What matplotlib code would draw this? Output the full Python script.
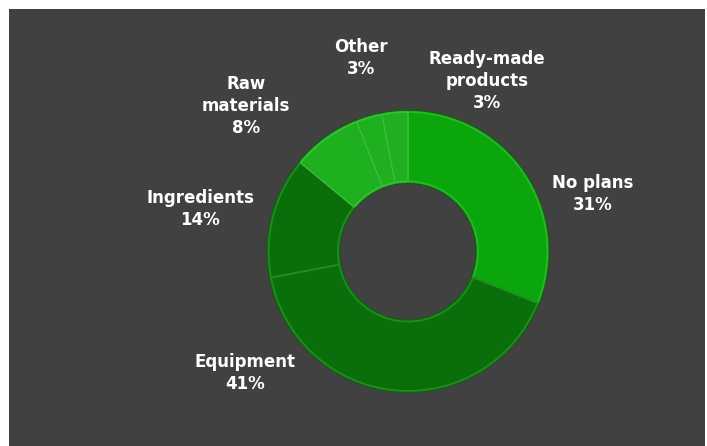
import matplotlib
matplotlib.use("Agg")
import matplotlib.pyplot as plt
from matplotlib.patches import Rectangle
import numpy as np

labels = ["No plans", "Equipment", "Ingredients", "Raw materials", "Other", "Ready-made products"]
display_labels = ["No plans", "Equipment", "Ingredients", "Raw\nmaterials", "Other", "Ready-made\nproducts"]
values = [31, 41, 14, 8, 3, 3]
colors = ["#0ba60b", "#0a6f0a", "#0a6f0a", "#1eb01e", "#1eb01e", "#1eb01e"]
rims = ["#27b827", "#1f8f1f", "#1f8f1f", "#36c036", "#36c036", "#36c036"]

# label centres in data units (radius 1 = outer ring)
label_pos = [(1.307, 0.405), (-1.152, -0.859), (-1.470, 0.300),
             (-1.145, 1.028), (-0.332, 1.367), (0.558, 1.205)]

W, H = 707, 446
cx, cy, R = 408, 251.5, 141.5

fig = plt.figure(figsize=(W / 100, H / 100), dpi=100)
fig.patch.set_facecolor("white")
ax = fig.add_axes([0, 0, 1, 1])
ax.axis("off")
ax.add_patch(Rectangle((9 / W, 0), (705 - 9) / W, (446 - 9) / H, transform=ax.transAxes,
                       facecolor="#414141", edgecolor="none", zorder=0))

wedges, _ = ax.pie(values, colors=colors, startangle=90, counterclock=False, radius=1.0,
                   wedgeprops=dict(width=0.52, edgecolor="#245224", linewidth=1.1))
for w in wedges:
    w.set_zorder(2)
# inner lighter rim for bevel look
wedges2, _ = ax.pie(values, colors=rims, startangle=90, counterclock=False, radius=0.985,
                    wedgeprops=dict(width=0.49, linewidth=1.2))
for w, rc in zip(wedges2, rims):
    w.set_facecolor((0, 0, 0, 0))
    w.set_edgecolor(rc)
    w.set_zorder(3)

for lab, v, (x, y) in zip(display_labels, values, label_pos):
    ax.text(x, y, f"{lab}\n{v}%", ha="center", va="center", color="white",
            fontsize=12, fontweight="bold", family=["DejaVu Sans"],
            linespacing=1.3, zorder=5)

ax.set_aspect("auto")
ax.set_xlim(-cx / R, (W - cx) / R)
ax.set_ylim(-(H - cy) / R, cy / R)

fig.savefig("out.png", dpi=100, facecolor="white")
